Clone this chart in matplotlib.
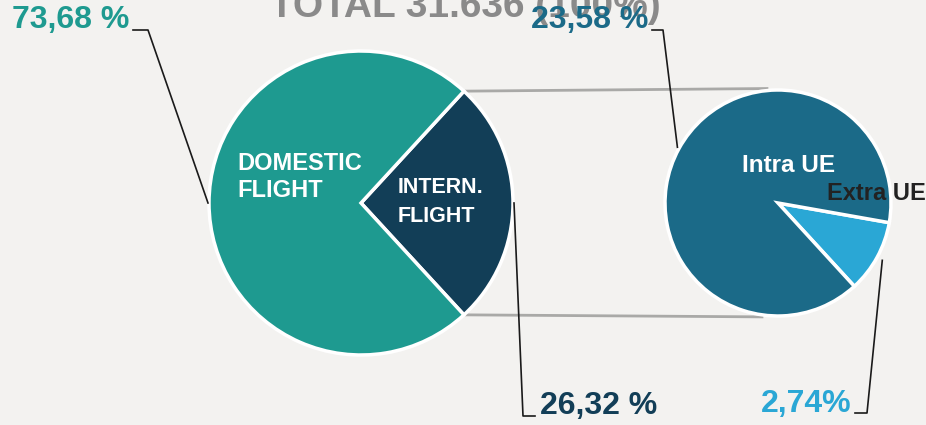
import numpy as np
import matplotlib
matplotlib.use("Agg")
import matplotlib.pyplot as plt

# ---- data ----
main_labels = ["INTERN.\nFLIGHT", "DOMESTIC\nFLIGHT"]
main_values = [26.32, 73.68]
main_pct_text = ["26,32 %", "73,68 %"]
sub_labels = ["Extra UE", "Intra UE"]
sub_values = [2.74, 23.58]
sub_pct_text = ["2,74%", "23,58 %"]
title_text = "TOTAL 31.636 (100%)"

# ---- style ----
BG = "#f3f2f0"
C_DOM = "#1e9a90"
C_INT = "#123e57"
C_INTRA = "#1b6a88"
C_EXTRA = "#2aa7d5"
FONT = "Liberation Sans"

W, H = 926, 425
fig = plt.figure(figsize=(W / 100, H / 100), dpi=100, facecolor=BG)
ax = fig.add_axes([0, 0, 1, 1])
ax.set_facecolor(BG)

def py(y):  # pixel-from-top -> data y
    return H - y

# main pie
c1 = (361, py(203)); r1 = 152
start1 = -main_values[0] / sum(main_values) * 360 / 2
w1, _ = ax.pie(main_values, colors=[C_INT, C_DOM], startangle=start1,
               center=c1, radius=r1, counterclock=True, frame=True,
               wedgeprops=dict(edgecolor="white", linewidth=2.5))

# sub pie
c2 = (778, py(203)); r2 = 113
w2, _ = ax.pie(sub_values, colors=[C_EXTRA, C_INTRA], startangle=-47.5,
               center=c2, radius=r2, counterclock=True, frame=True,
               explode=[0.03, 0],
               wedgeprops=dict(edgecolor="white", linewidth=2.5))
ax.set_xlim(0, W)
ax.set_ylim(0, H)
ax.set_aspect("equal")
ax.axis("off")

def pt(c, r, ang):
    a = np.deg2rad(ang)
    return c[0] + r * np.cos(a), c[1] + r * np.sin(a)

# connector lines between pies
t_int = w1[0]
p_top1 = pt(c1, r1, t_int.theta2)
p_bot1 = pt(c1, r1, t_int.theta1)
p_top2 = pt(c2, r2 + 2, 95.5)
p_bot2 = pt(c2, r2 + 2, -98)
ax.plot([p_top1[0], p_top2[0]], [p_top1[1], p_top2[1]], color="#a9a9a7", lw=2, zorder=0.5)
ax.plot([p_bot1[0], p_bot2[0]], [p_bot1[1], p_bot2[1]], color="#a9a9a7", lw=2, zorder=0.5)

# leader lines
lk = dict(color="#1a1a1a", lw=1.2, zorder=3)
p = pt(c1, r1 + 1, 180)
ax.plot([133, 148, p[0]], [py(30), py(30), p[1]], **lk)
p = pt(c1, r1 + 1, 0)
ax.plot([p[0], 523, 535], [p[1], py(416), py(416)], **lk)
p = pt(c2, r2 + 2, 151)
ax.plot([652, 663, p[0]], [py(30), py(30), p[1]], **lk)
p = pt(c2, r2 + 6, -28.8)
ax.plot([855, 867, p[0]], [py(413), py(413), p[1]], **lk)

# title (cut off at top), drawn beneath the labels
ax.text(465, py(17), title_text, color="#8a8a8a", fontsize=28, fontweight="bold",
        family=FONT, ha="center", va="baseline", clip_on=False, zorder=4)

# percentage labels
pk = dict(fontsize=23, fontweight="bold", family=FONT, va="center", zorder=6)
ax.text(129, py(20), main_pct_text[1], color=C_DOM, ha="right", **pk)
ax.text(540, py(406), main_pct_text[0], color=C_INT, ha="left", **pk)
ax.text(648, py(20), sub_pct_text[1], color=C_INTRA, ha="right", **pk)
ax.text(851, py(404), sub_pct_text[0], color=C_EXTRA, ha="right", **pk)

# inner labels
ik = dict(fontweight="bold", family=FONT, va="center", ha="left", zorder=6)
ax.text(237, py(177), main_labels[1], color="white", fontsize=17, linespacing=1.25, **ik)
ax.text(398, py(202), main_labels[0], color="white", fontsize=15.5, linespacing=1.45, **ik)
ax.text(742, py(165), sub_labels[1], color="white", fontsize=17.5, **ik)
ax.text(827, py(193), sub_labels[0], color="#222222", fontsize=17, **ik)

fig.savefig("out.png", dpi=100, facecolor=BG)
